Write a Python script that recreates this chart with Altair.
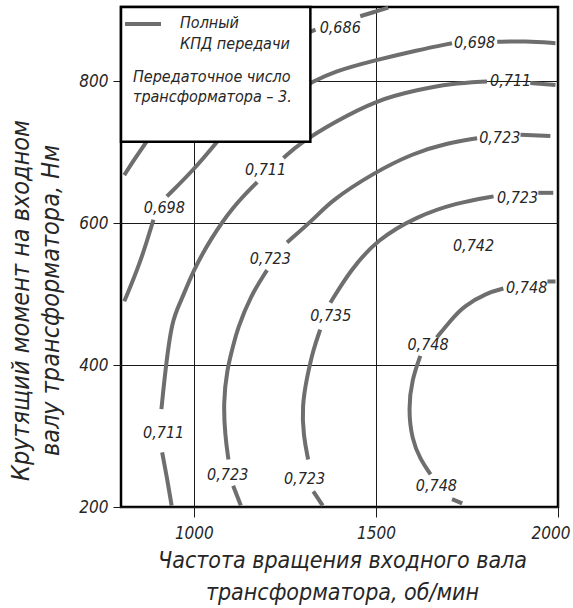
import altair as alt
import pandas as pd

FONT = "Liberation Sans Narrow, DejaVu Sans Condensed, Liberation Sans, sans-serif"
LINE_GREY = "#6e6e6e"
INK = "#262626"

# Efficiency contour lines: input shaft speed (rpm) vs input torque (N*m).
# Each level is a list of segments, broken where an inline label sits.
k686_rpm = [[1315, 1334], [1457, 1495, 1534], [870, 839, 809]]
k686_nm = [[869, 873], [892, 898, 904], [715, 692, 668]]

k698_rpm = [[1318, 1383, 1499, 1613, 1709], [1833, 1911, 1993],
            [1064, 999, 926], [889, 853, 809]]
k698_nm = [[797, 814, 830, 844, 854], [856, 857, 854],
           [715, 675, 638], [605, 544, 490]]

k711_rpm = [[1924, 1993],
            [1805, 1705, 1613, 1503, 1383, 1292, 1246],
            [1174, 1108, 1045, 999, 963, 940, 922, 911],
            [913, 927, 939]]
k711_nm = [[798, 795],
           [800, 797, 788, 774, 742, 713, 692],
           [658, 624, 577, 534, 488, 464, 394, 338],
           [277, 239, 202]]

k723_outer_rpm = [[1897, 1979],
                  [1778, 1695, 1603, 1493, 1375, 1338, 1256],
                  [1201, 1155, 1119, 1108, 1091, 1081, 1086, 1095],
                  [1108, 1129]]
k723_outer_nm = [[725, 723],
                 [720, 713, 699, 671, 631, 610, 573],
                 [534, 497, 450, 427, 394, 347, 300, 267],
                 [230, 202]]

k723_inner_rpm = [[1946, 1987],
                  [1823, 1723, 1613, 1503, 1430, 1375],
                  [1347, 1328, 1311, 1297, 1301, 1314],
                  [1328, 1354]]
k723_inner_nm = [[643, 643],
                 [638, 629, 610, 577, 534, 488],
                 [450, 422, 384, 342, 300, 267],
                 [222, 202]]

k748_rpm = [[1971, 1993],
            [1850, 1805, 1740, 1707, 1667],
            [1622, 1599, 1589, 1599, 1622, 1650],
            [1709, 1737]]
k748_nm = [[518, 518],
           [508, 502, 483, 464, 439],
           [413, 380, 338, 295, 267, 246],
           [211, 205]]

# Inline contour labels
label_text = ["0,686", "0,698", "0,711", "0,723", "0,723", "0,742", "0,748",
              "0,698", "0,711", "0,723", "0,735", "0,748",
              "0,711", "0,723", "0,723", "0,748"]
label_rpm = [1402, 1771, 1870, 1840, 1889, 1768, 1914,
             919, 1197, 1210, 1376, 1643,
             917, 1093, 1304, 1666]
label_nm = [875, 854, 800, 720, 636, 568, 509,
            621, 675, 549, 470, 429,
            304, 245, 239, 230]

# Legend frame extent (in axis units)
legend_rpm = [800, 1320]
legend_nm = [715, 905]

x_ticks = [1000, 1500, 2000]
y_ticks = [200, 400, 600, 800]

levels = [
    ("686", k686_rpm, k686_nm),
    ("698", k698_rpm, k698_nm),
    ("711", k711_rpm, k711_nm),
    ("723o", k723_outer_rpm, k723_outer_nm),
    ("723i", k723_inner_rpm, k723_inner_nm),
    ("748", k748_rpm, k748_nm),
]
rows = []
for name, rpm_segs, nm_segs in levels:
    for si, (rs, ns) in enumerate(zip(rpm_segs, nm_segs)):
        for pi, (r, n) in enumerate(zip(rs, ns)):
            rows.append({"seg": f"{name}-{si}", "rpm": r, "nm": n, "idx": pi})
contours = pd.DataFrame(rows)

labels = pd.DataFrame({"text": label_text, "rpm": label_rpm, "nm": label_nm})
frame = pd.DataFrame({"rpm": [legend_rpm[0]], "rpm2": [legend_rpm[1]],
                      "nm": [legend_nm[0]], "nm2": [legend_nm[1]]})

x_scale = alt.Scale(domain=[800, 2000], nice=False, zero=False)
y_scale = alt.Scale(domain=[200, 905], nice=False, zero=False)

x_axis = alt.Axis(
    values=x_ticks, format="d", grid=True, gridColor="#1a1a1a", gridWidth=1,
    domain=False, ticks=True, tickSize=10, tickColor="#1a1a1a", tickWidth=1,
    labelFont=FONT, labelFontStyle="italic", labelFontSize=17, labelColor=INK,
    labelBaseline="middle", labelPadding=16,
    labelFlush=True, labelFlushOffset=12,
    title=["Частота вращения входного вала", "трансформатора, об/мин"],
    titleFont=FONT, titleFontStyle="italic", titleFontWeight="normal",
    titleFontSize=23, titleColor=INK, titleLineHeight=32,
    titleX=221, titleY=53, titleBaseline="middle", titleAlign="center",
)
y_axis = alt.Axis(
    values=y_ticks, format="d", grid=True, gridColor="#1a1a1a", gridWidth=1,
    domain=False, ticks=True, tickSize=8, tickColor="#1a1a1a", tickWidth=1,
    labelFont=FONT, labelFontStyle="italic", labelFontSize=17, labelColor=INK,
    labelPadding=5,
    title=["Крутящий момент на входном", "валу трансформатора, Нм"],
    titleFont=FONT, titleFontStyle="italic", titleFontWeight="normal",
    titleFontSize=25, titleColor=INK, titleLineHeight=30, titleAngle=270,
    titleX=-101, titleY=293, titleBaseline="middle", titleAlign="center",
)

X = alt.X("rpm:Q", scale=x_scale, axis=x_axis)
Y = alt.Y("nm:Q", scale=y_scale, axis=y_axis)

lines = alt.Chart(contours).mark_line(
    color=LINE_GREY, strokeWidth=4, strokeCap="butt", interpolate="basis"
).encode(x=X, y=Y, detail="seg:N", order="idx:Q")

texts = alt.Chart(labels).mark_text(
    font=FONT, fontStyle="italic", fontSize=16, color=INK, baseline="middle"
).encode(x=X, y=Y, text="text:N")

box = alt.Chart(frame).mark_rect(
    fill="white", stroke="black", strokeWidth=2.5
).encode(x=X, x2="rpm2:Q", y=Y, y2="nm2:Q")

legend_line = alt.Chart(pd.DataFrame({"k": [0]})).mark_rule(
    color=LINE_GREY, strokeWidth=4
).encode(x=alt.value(4), x2=alt.value(40), y=alt.value(17))

legend_lines = ["Полный", "КПД передачи", "Передаточное число", "трансформатора – 3."]
legend_px = [59, 59, 12, 12]
legend_py = [16, 37, 70, 90]
legend_layers = [
    alt.Chart(pd.DataFrame({"t": [t]})).mark_text(
        font=FONT, fontStyle="italic", fontSize=16, color=INK,
        align="left", baseline="middle"
    ).encode(x=alt.value(px), y=alt.value(py), text="t:N")
    for t, px, py in zip(legend_lines, legend_px, legend_py)
]

chart = alt.layer(lines, texts, box, legend_line, *legend_layers).properties(
    width=437, height=500,
    background="white",
    autosize=alt.AutoSizeParams(type="none"),
    padding={"left": 121, "top": 7, "right": 15, "bottom": 101},
).configure_view(
    stroke="black", strokeWidth=2.5
)

chart.save("out.html", embed_options={"renderer": "svg", "actions": False})
